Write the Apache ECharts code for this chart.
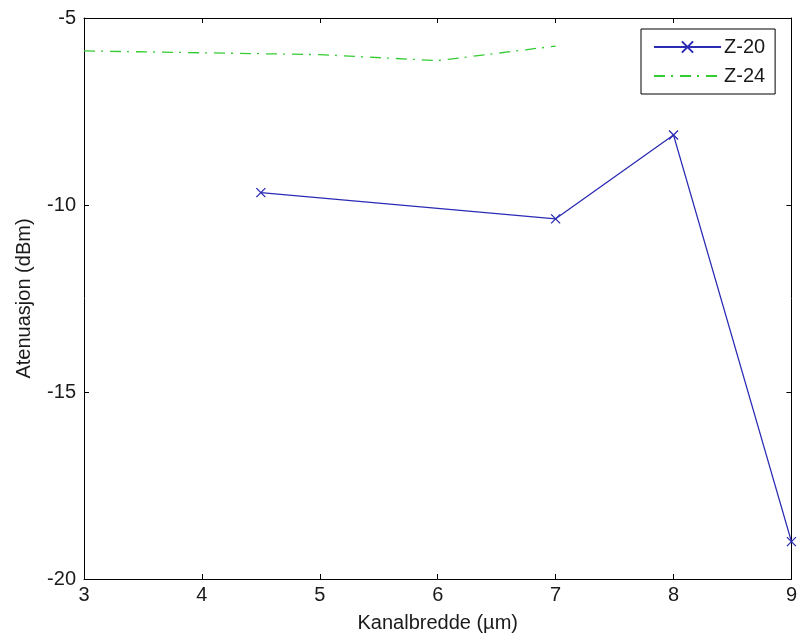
<!DOCTYPE html>
<html>
<head>
<meta charset="utf-8">
<script src="https://cdn.jsdelivr.net/npm/echarts@6/dist/echarts.min.js"></script>
<style>
  html, body { margin: 0; padding: 0; background: #fff; }
  #main { width: 800px; height: 639px; }
</style>
</head>
<body>
<div id="main"></div>
<script>
  // Z-20: kanalbredde og atenuasjon
  var z20X = [4.5, 7, 8, 9];
  var z20Y = [-9.67, -10.37, -8.13, -19.0];

  // Z-24
  var z24X = [3, 4, 5, 6, 7];
  var z24Y = [-5.88, -5.93, -5.98, -6.14, -5.75];

  var xTicks = [3, 4, 5, 6, 7, 8, 9];
  var yTicks = [-20, -15, -10, -5];

  function pairs(xs, ys) {
    return xs.map(function (x, i) { return [x, ys[i]]; });
  }

  var font = 'Liberation Sans, Arial, sans-serif';
  var txt = '#1a1a1a';
  var xMark = 'path://M0,0L10,10M10,0L0,10';

  var myChart = echarts.init(document.getElementById('main'));

  var tickStyle = { show: true, inside: true, length: 5, lineStyle: { color: '#000' } };
  var lineStyle = { show: true, onZero: false, lineStyle: { color: '#000', width: 1 } };

  var option = {
    animation: false,
    backgroundColor: '#fff',
    grid: { left: 84, right: 5, top: 18, bottom: 60, show: false },
    legend: {
      orient: 'vertical',
      left: 641,
      top: 29,
      padding: [8, 10, 8, 12],
      itemGap: 9,
      itemWidth: 67,
      itemHeight: 14,
      borderColor: '#000',
      borderWidth: 1,
      backgroundColor: '#fff',
      textStyle: { fontSize: 20, fontFamily: font, color: txt, padding: [0, 0, 0, -2] },
      data: ['Z-20', { name: 'Z-24', itemStyle: { opacity: 0 } }]
    },
    xAxis: [{
      type: 'value',
      min: xTicks[0],
      max: xTicks[xTicks.length - 1],
      interval: 1,
      name: 'Kanalbredde (\u00b5m)',
      nameLocation: 'middle',
      nameGap: 34,
      nameTextStyle: { fontSize: 20, fontFamily: font, color: txt },
      axisLine: lineStyle,
      axisTick: tickStyle,
      splitLine: { show: false },
      axisLabel: { fontSize: 20, fontFamily: font, color: txt, margin: 6 }
    }, {
      type: 'value',
      position: 'top',
      min: xTicks[0],
      max: xTicks[xTicks.length - 1],
      interval: 1,
      axisLine: lineStyle,
      axisTick: tickStyle,
      splitLine: { show: false },
      axisLabel: { show: false }
    }],
    yAxis: [{
      type: 'value',
      min: yTicks[0],
      max: yTicks[yTicks.length - 1],
      interval: 5,
      name: 'Atenuasjon (dBm)',
      nameLocation: 'middle',
      nameGap: 50,
      nameTextStyle: { fontSize: 20, fontFamily: font, color: txt },
      axisLine: lineStyle,
      axisTick: tickStyle,
      splitLine: { show: false },
      axisLabel: { fontSize: 20, fontFamily: font, color: txt, margin: 8 }
    }, {
      type: 'value',
      position: 'right',
      min: yTicks[0],
      max: yTicks[yTicks.length - 1],
      interval: 5,
      axisLine: lineStyle,
      axisTick: tickStyle,
      splitLine: { show: false },
      axisLabel: { show: false }
    }],
    series: [{
      name: 'Z-20',
      type: 'line',
      data: pairs(z20X, z20Y),
      symbol: xMark,
      symbolSize: 9,
      showAllSymbol: true,
      lineStyle: { color: '#2b2bb4', width: 1.3 },
      itemStyle: { color: 'none', borderColor: '#2b2bb4', borderWidth: 1.3 }
    }, {
      name: 'Z-24',
      type: 'line',
      data: pairs(z24X, z24Y),
      symbol: 'none',
      lineStyle: { color: '#33cc33', width: 1.3, type: [11, 6, 2, 7] },
      itemStyle: { color: '#33cc33' }
    }]
  };

  myChart.setOption(option);
</script>
</body>
</html>
